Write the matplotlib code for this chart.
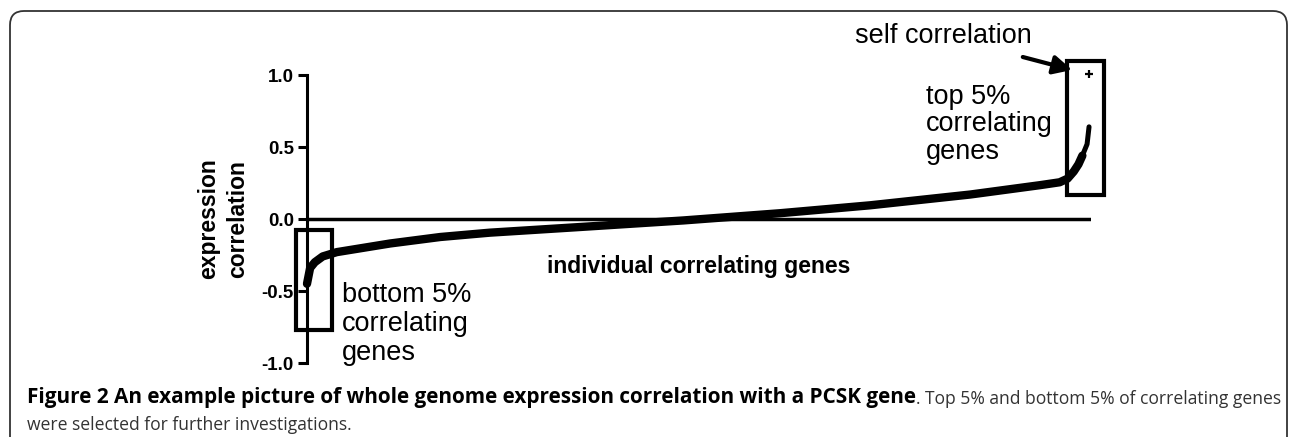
import matplotlib
matplotlib.use("Agg")
import matplotlib.pyplot as plt
from matplotlib.patches import FancyBboxPatch, Rectangle
from matplotlib.transforms import IdentityTransform

# sorted genome-wide correlation curve
# x = gene rank (percent of all genes), y = expression correlation
rank_pct = [0.0, 0.4, 1.0, 2.0, 3.8, 10.6, 17.0, 23.3, 35.0, 48.0, 60.3,
            71.8, 84.6, 93.5, 96.0, 97.0, 97.8, 98.4, 98.9]
corr = [-0.45, -0.34, -0.30, -0.26, -0.23, -0.17, -0.125, -0.095, -0.055,
        -0.01, 0.04, 0.095, 0.17, 0.235, 0.255, 0.28, 0.33, 0.38, 0.44]
# the last few genes (thin tail) and the gene with itself
tail_pct = [98.9, 99.5, 99.75]
tail_corr = [0.44, 0.52, 0.64]
self_pct = [99.7]
self_corr = [1.01]

# selection boxes (x0, x1, y0, y1) in rank % / correlation
bottom_box = (-1.4, 3.2, -0.77, -0.076)
top_box = (96.9, 101.7, 0.167, 1.10)

yticks = [-1.0, -0.5, 0.0, 0.5, 1.0]
ytick_labels = ["-1.0", "-0.5", "0.0", "0.5", "1.0"]

W, H = 1292, 437
plt.rcParams["font.family"] = ["Liberation Sans", "DejaVu Sans"]

fig = plt.figure(figsize=(W / 100, H / 100), dpi=100)
fig.patch.set_facecolor("white")

# outer rounded frame of the figure panel
frame = FancyBboxPatch((10, -30), 1277, 456,
                       boxstyle="round,pad=0,rounding_size=14",
                       transform=IdentityTransform(), fill=False,
                       ec="#333333", lw=1.3)
fig.add_artist(frame)

ax = fig.add_axes([307 / W, 74 / H, 784 / W, 288 / H])
ax.set_xlim(0, 100)
ax.set_ylim(-1, 1)
for s in ("top", "right", "bottom"):
    ax.spines[s].set_visible(False)
ax.spines["left"].set_linewidth(2.2)
ax.set_xticks([])
ax.set_yticks(yticks)
ax.set_yticklabels(ytick_labels, fontsize=13.5, fontweight="bold")
ax.tick_params(axis="y", direction="out", length=6.5, width=2.2, pad=3)
ax.set_ylabel("expression\ncorrelation", fontsize=16.5, fontweight="bold",
              labelpad=9, linespacing=1.35)

ax.axhline(0, xmin=0, xmax=1, color="k", lw=2.5, zorder=2)
ax.plot(rank_pct, corr, color="k", lw=6, solid_capstyle="round",
        solid_joinstyle="round", zorder=3, clip_on=False)
ax.plot(tail_pct, tail_corr, color="k", lw=3.6, solid_capstyle="round",
        solid_joinstyle="round", zorder=3, clip_on=False)
ax.plot(self_pct, self_corr, marker="+", ms=6, mew=1.6, color="k",
        ls="none", clip_on=False, zorder=3)

for x0, x1, y0, y1 in (bottom_box, top_box):
    ax.add_patch(Rectangle((x0, y0), x1 - x0, y1 - y0, fill=False,
                           ec="k", lw=3, clip_on=False, zorder=4))

ax.text(50, -0.33, "individual correlating genes", ha="center", va="center",
        fontsize=16.5, fontweight="bold")
ax.text(4.5, -0.44, "bottom 5%\ncorrelating\ngenes", ha="left", va="top",
        fontsize=19.5, linespacing=1.15)
ax.text(79.0, 0.94, "top 5%\ncorrelating\ngenes", ha="left", va="top",
        fontsize=19.5, linespacing=1.08)
ax.text(69.9, 1.22, "self correlation", ha="left", va="baseline",
        fontsize=19.5, clip_on=False)
ax.annotate("", xy=(97.6, 1.035), xytext=(91.3, 1.125),
            arrowprops=dict(arrowstyle="-|>", lw=3, color="k",
                            mutation_scale=28, shrinkA=0, shrinkB=0),
            annotation_clip=False)

# caption under the chart, sized so each part spans its width in the picture
cap_family = ["Open Sans", "DejaVu Sans"]
cap = fig.add_axes([0, 0, 1, 1], zorder=-1)
cap.axis("off")
cap.set_xlim(0, W)
cap.set_ylim(H, 0)
t1 = cap.text(27, 397, "Figure 2 An example picture of whole genome expression "
              "correlation with a PCSK gene", ha="left", va="center",
              fontsize=12, fontweight="bold", family=cap_family)
t2 = cap.annotate(". Top 5% and bottom 5% of correlating genes", xy=(1, 0),
                  xycoords=t1, ha="left", va="bottom", fontsize=12,
                  family=cap_family, color="#333333")
t3 = cap.text(27, 425, "were selected for further investigations.", ha="left",
              va="center", fontsize=12, family=cap_family, color="#333333")
fig.canvas.draw()
r = fig.canvas.get_renderer()
w1 = t1.get_window_extent(r).width
w2 = t2.get_window_extent(r).width
t1.set_fontsize(12 * 889 / w1)
t2.set_fontsize(12 * 365 / w2)
t3.set_fontsize(12 * 365 / w2)

fig.savefig("out.png", dpi=100)
